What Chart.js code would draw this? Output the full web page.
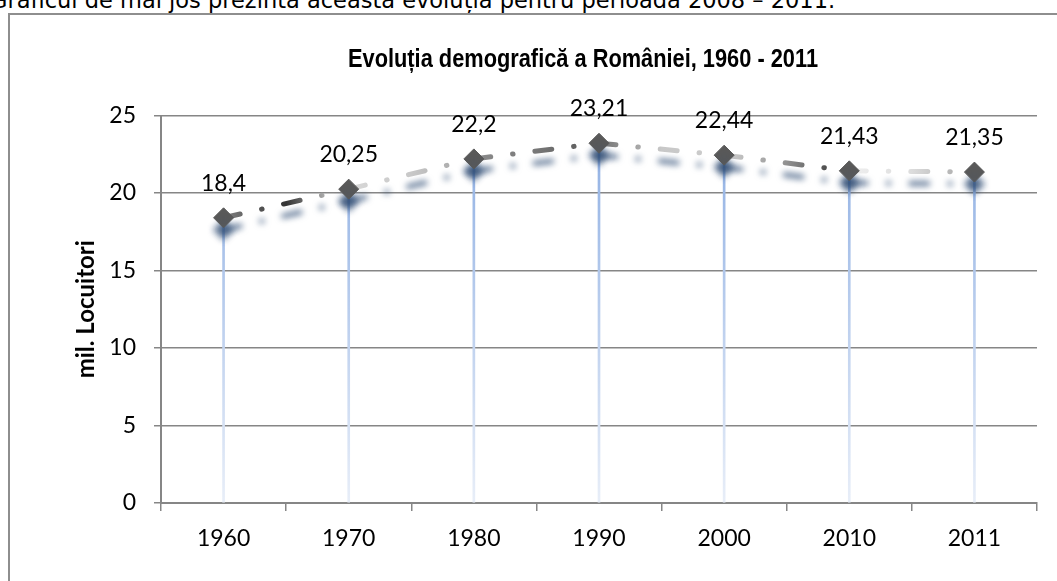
<!DOCTYPE html>
<html><head><meta charset="utf-8">
<script src="https://cdn.jsdelivr.net/npm/chart.js@4/dist/chart.umd.min.js"></script>
<style>
html,body{margin:0;padding:0;background:#fff;overflow:hidden;width:1057px;height:581px;}
#intro{position:absolute;left:-10px;top:-13px;font-family:"DejaVu Sans";font-size:22.5px;line-height:27px;white-space:nowrap;color:#000;}
#frame{position:absolute;left:8px;top:13px;width:1200px;height:700px;border-left:2px solid #8e8e8e;border-top:2px solid #8e8e8e;}
#wrap{position:absolute;left:0;top:0;width:1057px;height:581px;}
</style></head><body>
<div id="intro">Graficul de mai jos prezintă această evoluția pentru perioada 2008 – 2011.</div>
<div id="frame"></div>
<div id="wrap"><canvas id="c"></canvas></div>
<script>
// ---- data ----
const chartTitle = 'Evoluția demografică a României, 1960 - 2011';
const yAxisTitle = 'mil. Locuitori';
const years = ['1960', '1970', '1980', '1990', '2000', '2010', '2011'];
const population = [18.4, 20.25, 22.2, 23.21, 22.44, 21.43, 21.35];
const yTicks = [0, 5, 10, 15, 20, 25];

// ---- style ----
const segmentShades = [
  ['#808080', '#333333', '#f5f5f5'],
  ['#d8d8d8', '#c8c8c8', '#a0a0a0'],
  ['#8c8c8c', '#777777', '#555555'],
  ['#707070', '#c8c8c8', '#cccccc'],
  ['#d0d0d0', '#909090', '#2a2a2a'],
  ['#f0f0f0', '#dcdcdc', '#a0a0a0']
];
const canvas = document.getElementById('c');
const cctx = canvas.getContext('2d');

function segGradient(s) {
  const sh = segmentShades[s.p0DataIndex] || segmentShades[0];
  const g = cctx.createLinearGradient(s.p0.x, s.p0.y, s.p1.x, s.p1.y);
  g.addColorStop(0, sh[0]);
  g.addColorStop(0.5, sh[1]);
  g.addColorStop(1, sh[2]);
  return g;
}

const lineShadow = {
  id: 'lineShadow',
  beforeDatasetDraw(chart, args) {
    if (args.index !== 0) return;
    const ctx = chart.ctx;
    ctx.save();
    ctx.shadowColor = 'rgba(45,75,115,0.75)';
    ctx.shadowBlur = 6;
    ctx.shadowOffsetX = 0;
    ctx.shadowOffsetY = 12;
  },
  afterDatasetDraw(chart, args) {
    if (args.index !== 0) return;
    chart.ctx.restore();
  }
};

const valueLabels = {
  id: 'valueLabels',
  afterDatasetsDraw(chart) {
    const meta = chart.getDatasetMeta(0);
    const ctx = chart.ctx;
    ctx.save();
    ctx.font = '23px Lato';
    ctx.fillStyle = '#000';
    ctx.textAlign = 'center';
    ctx.textBaseline = 'alphabetic';
    meta.data.forEach((pt, i) => {
      ctx.fillText(String(population[i]).replace('.', ','), pt.x, pt.y - 27);
    });
    ctx.restore();
  }
};

const condTitle = {
  id: 'condTitle',
  afterDraw(chart) {
    const ctx = chart.ctx;
    ctx.save();
    ctx.font = 'bold 25px "Liberation Sans"';
    ctx.fillStyle = '#000';
    ctx.textAlign = 'center';
    ctx.textBaseline = 'alphabetic';
    const w = ctx.measureText(chartTitle).width;
    ctx.translate(583, 66.5);
    ctx.scale(470 / w, 1);
    ctx.fillText(chartTitle, 0, 0);
    ctx.restore();
  }
};

new Chart(canvas, {
  type: 'line',
  data: {
    labels: years,
    datasets: [
      {
        type: 'line',
        data: population,
        order: 1,
        borderWidth: 5,
        borderCapStyle: 'round',
        borderDash: [17, 22, 0.5, 22],
        borderColor: '#808080',
        segment: { borderColor: s => segGradient(s) },
        pointStyle: 'rectRot',
        pointRadius: 10,
        pointBackgroundColor: '#595959',
        pointBorderColor: '#595959',
        pointBorderWidth: 1,
        tension: 0,
        fill: false
      },
      {
        type: 'bar',
        data: population,
        order: 2,
        barThickness: 2,
        borderWidth: 0,
        backgroundColor: (c) => {
          const ca = c.chart.chartArea;
          if (!ca) return '#a6bfe8';
          const g = c.chart.ctx.createLinearGradient(0, ca.top, 0, ca.bottom);
          g.addColorStop(0, '#8aace2');
          g.addColorStop(1, '#e8eef8');
          return g;
        }
      }
    ]
  },
  options: {
    responsive: true,
    maintainAspectRatio: false,
    animation: false,
    events: [],
    layout: { padding: { top: 115.5, right: 20, bottom: 0, left: 0 } },
    plugins: { legend: { display: false }, tooltip: { enabled: false }, title: { display: false } },
    scales: {
      x: {
        offset: true,
        grid: { offset: true, drawOnChartArea: false, drawTicks: true, tickLength: 8, color: '#868686', lineWidth: 1.5 },
        border: { display: true, color: '#868686', width: 2 },
        ticks: { color: '#000', font: { family: 'Lato', size: 23 }, padding: 14, maxRotation: 0, autoSkip: false },
        afterFit: s => { s.height = 78; }
      },
      y: {
        min: yTicks[0],
        max: yTicks[yTicks.length - 1],
        afterBuildTicks: s => { s.ticks = yTicks.map(v => ({ value: v })); },
        grid: { color: '#868686', lineWidth: 1.5, tickLength: 7, drawTicks: true },
        border: { display: true, color: '#868686', width: 2 },
        ticks: { color: '#000', font: { family: 'Lato', size: 23 }, padding: 18 },
        title: { display: true, text: yAxisTitle, color: '#000', font: { family: 'Lato', size: 24, weight: 'bold' }, padding: { top: 72, bottom: 0 } },
        afterFit: s => { s.width = 161; }
      }
    }
  },
  plugins: [lineShadow, valueLabels, condTitle]
});
</script>
</body></html>
